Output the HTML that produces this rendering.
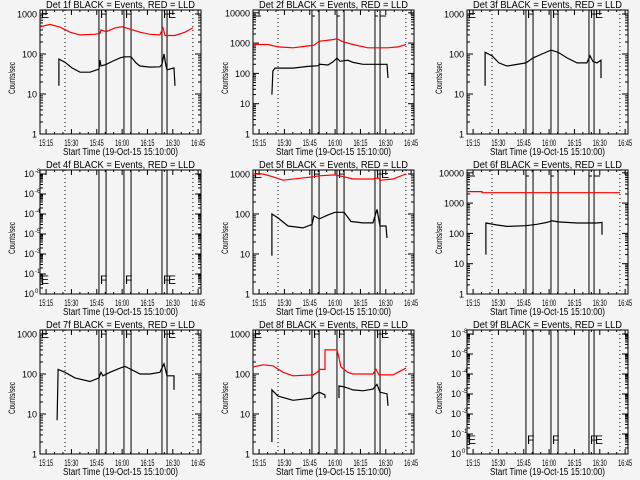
<!DOCTYPE html>
<html><head><meta charset="utf-8"><style>
html,body{margin:0;padding:0;background:#f4f4f4;}
svg{display:block;font-family:"Liberation Sans",sans-serif;}
</style></head><body>
<svg id="chart" width="640" height="480"></svg>
<script>
// ---- data (minutes since ~15:10) ----
const tickMinutes = [6,21,36,51,66,81,96];
const tickLabels = ["15:15","15:30","15:45","16:00","16:15","16:30","16:45"];
const flagLines = [37.3,41.5,52.1,56.3,74.6,77.6];
const dottedLines = [17.2,92.9];
const titles = ["Det 1f","Det 2f","Det 3f","Det 4f","Det 5f","Det 6f","Det 7f","Det 8f","Det 9f"];

const t1b=[13.6,13.6,17.2,21.3,26.1,32,37.3,37.9,38.5,41.5,45,49.7,52.1,56.3,59.2,61.6,67.5,73.4,74.6,75.8,77,77.6,79.3,81.7,82.3];
const v1b=[16,75,62,45,35,35,42,70,50,55,65,80,85,85,60,50,47,48,55,100,50,40,42,45,16];
const t1r=[2.4,8.3,14.2,20.2,26.1,34.9,37.9,38.5,41.5,46.8,50.9,55.7,61.6,67.5,73.4,75.2,76.4,82.3,88.2,92.9];
const v1r=[480,550,470,350,300,310,330,400,360,450,480,420,350,310,300,450,290,290,350,450];

const t2b=[13.6,14.2,15.4,26.1,34.9,40.9,42,46.8,49.7,52.1,53.9,58.6,61.6,67.5,76.4,81.7,82.3];
const v2b=[20,120,150,150,170,180,200,190,240,320,250,270,230,200,200,200,70];
const t2r=[2.4,11.3,17.2,26.1,34.9,38.5,41.5,49.7,52.1,55.7,61.6,70.4,82.3,88.2,92.9];
const v2r=[900,900,750,700,800,850,1150,1300,1400,1100,900,700,700,750,900];

const t3b=[13.1,13.1,17.2,21.3,26.1,37.3,41.5,46.8,52.1,56.3,61.6,67.5,73.4,75.2,77,79.3,81.7,81.7];
const v3b=[16,110,90,60,50,60,80,100,125,110,80,60,60,90,65,60,70,25];

const t5b=[13.6,13.6,17.2,23.1,32,37.3,38.5,41.5,46.8,50.9,56.3,60.4,67.5,73.4,75.8,77.6,81.1,81.7];
const v5b=[9,100,80,50,45,55,90,75,95,110,110,65,60,60,130,50,50,25];
const t5r=[2.4,8.3,14.2,20.2,37.9,41.5,50.9,56.3,61.6,73.4,76.4,78.1,85.2,92.9];
const v5r=[1000,1000,850,700,850,900,950,850,750,750,800,700,750,1000];

const t6b=[13.6,13.6,20.2,26.1,37.3,43.8,49.7,52.7,56.3,67.5,79.3,82.3,82.3];
const v6b=[20,220,190,170,180,200,230,260,240,220,220,230,90];
const t6r=[2.4,11.3,11.3,92.9];
const v6r=[2400,2400,2200,2200];

const t7b=[12.5,13.1,17.2,23.1,32,37.3,38.5,39.7,43.8,49.7,52.7,56.3,61.6,67.5,73.4,75.8,77.6,81.7,81.7];
const v7b=[7,130,110,80,65,80,110,90,110,140,155,130,100,100,110,180,90,90,40];

const t8b=[13.6,13.6,17.2,26.1,37.3,38.5,41.5,45,45];
const v8b=[2,40,28,22,25,30,35,30,25];
const t8b2=[53.3,53.3,56.3,61.6,67.5,73.4,75.8,77.6,81.7,82.3];
const v8b2=[25,50,48,40,38,42,55,35,32,16];
const t8r=[2.4,8.3,14.2,20.2,26.1,37.9,40.3,42,45,45,52.1,53.3,54.5,58.6,61.6,73.4,75.2,77,85.2,92.9];
const v8r=[150,170,160,110,90,95,110,130,130,400,400,250,150,110,100,100,130,95,95,140];

const panelSeries = [
 [[t1b,v1b,"#000"],[t1r,v1r,"#f00"]],
 [[t2b,v2b,"#000"],[t2r,v2r,"#f00"]],
 [[t3b,v3b,"#000"]],
 [],
 [[t5b,v5b,"#000"],[t5r,v5r,"#f00"]],
 [[t6b,v6b,"#000"],[t6r,v6r,"#f00"]],
 [[t7b,v7b,"#000"]],
 [[t8b,v8b,"#000"],[t8b2,v8b2,"#000"],[t8r,v8r,"#f00"]],
 []
];
const panelDecades = [3,5,3,0,3,5,3,3,0];

// ---- drawing ----
const NS="http://www.w3.org/2000/svg";
const svg=document.getElementById('chart');
function mk(tag,attrs,parent){const e=document.createElementNS(NS,tag);for(const k in attrs)e.setAttribute(k,attrs[k]);(parent||svg).appendChild(e);return e;}
const colX=[0,213,427], rowY=[0,160,320];
const X0=40,X1=201,Y0=10,Y1=134;

titles.forEach((title,i)=>{
  const ox=colX[i%3], oy=rowY[Math.floor(i/3)];
  const g=mk('g',{transform:`translate(${ox},${oy})`});
  
  
  const xs=t=>X0+(t-2.4)/(97.7-2.4)*(X1-X0);
  const dec=panelDecades[i];
  const ppd = dec===5?30.3:40;
  const ys=v=>Y1-Math.log10(v)*ppd;

  const tt=mk('text',{x:46,y:8,'font-size':'10',fill:'#000',textLength:149,lengthAdjust:'spacingAndGlyphs'},g);
  tt.textContent=title+" BLACK = Events, RED = LLD";
  
  

  const fr=mk('rect',{x:X0,y:Y0,width:X1-X0,height:Y1-Y0,fill:'none',stroke:'#000','stroke-width':1},g);
  
  

  for(let m=6-15;m<=97;m+=5){ if(m<2.4)continue; const x=xs(m); const major=((m-6)%15===0);
    const L=major?5:2;
    mk('line',{x1:x,y1:Y1,x2:x,y2:Y1-L,stroke:'#000'},g);
    mk('line',{x1:x,y1:Y0,x2:x,y2:Y0+L,stroke:'#000'},g);}
  tickMinutes.forEach((m,k)=>{const t=mk('text',{x:xs(m)-7,y:146,'font-size':'9',fill:'#000',textLength:14,lengthAdjust:'spacingAndGlyphs'},g);t.textContent=tickLabels[k];
    
    });
  const xt=mk('text',{x:63,y:155,'font-size':'10',fill:'#000',textLength:115,lengthAdjust:'spacingAndGlyphs'},g);
  xt.textContent="Start Time (19-Oct-15 15:10:00)";
  
  
  const yt=mk('text',{x:0,y:0,'font-size':'9','text-anchor':'middle',fill:'#000',transform:'translate(15,78) rotate(-90)',textLength:32,lengthAdjust:'spacingAndGlyphs'},g);
  yt.textContent="Counts/sec";
  
  

  if(dec>0){
    for(let d=0;d<=dec+1;d++){for(let k=1;k<=9;k++){const v=k*Math.pow(10,d);const y=ys(v);if(y<Y0)continue;
      const L=k===1?6:3;
      mk('line',{x1:X0,y1:y,x2:X0+L,y2:y,stroke:'#000'},g);
      mk('line',{x1:X1,y1:y,x2:X1-L,y2:y,stroke:'#000'},g);
      if(k===1){const t=mk('text',{x:37,y:y+3.5,'font-size':'9','text-anchor':'end',fill:'#000'},g);t.textContent=String(v);
        
        }}}
  } else {
    const ex=["0","-1","-3","-5","-4","-6","-8"];
    ex.forEach((e,k)=>{const y=Y1-k*20;
      mk('line',{x1:X0,y1:y,x2:X0+6,y2:y,stroke:'#000'},g);
      mk('line',{x1:X1,y1:y,x2:X1-6,y2:y,stroke:'#000'},g);
      if(k<6){for(let j=2;j<=9;j++){const yy=y-Math.log10(j)*20;
        mk('line',{x1:X0,y1:yy,x2:X0+3,y2:yy,stroke:'#000'},g);
        mk('line',{x1:X1,y1:yy,x2:X1-3,y2:yy,stroke:'#000'},g);}}
      const t=mk('text',{x:34,y:y+3,'font-size':'9','text-anchor':'end',fill:'#000'},g);
      t.textContent="10";
      
      
      const s=mk('text',{x:35,y:y-1,'font-size':'6','text-anchor':'start',fill:'#000'},g);s.textContent=e;});
  }

  dottedLines.forEach(m=>{const l=mk('line',{x1:xs(m),y1:Y0,x2:xs(m),y2:Y1,stroke:'#000','stroke-dasharray':'1,3'},g);
    
    });
  flagLines.forEach(m=>{const l=mk('line',{x1:xs(m),y1:Y0,x2:xs(m),y2:Y1,stroke:'#000','stroke-width':1},g);
    
    });
  const letterY = dec===0?124:18;
  if(dec!==5){
    const lets=[[2.4,"E"],[37.3,"F"],[52.1,"F"],[74.6,"F"],[77.6,"E"]];
    lets.forEach(([m,c])=>{const t=mk('text',{x:xs(m)+1,y:letterY,'font-size':'12',fill:'#000'},g);t.textContent=c;
      
      });
  } else {
    [[2.4,8],[37.3,3],[52.1,3],[74.6,3],[77.6,6]].forEach(([m,w])=>{
      mk('line',{x1:xs(m),y1:16,x2:xs(m)+w,y2:16,stroke:'#000'},g);});
  }

  panelSeries[i].forEach(([ts,vs,col])=>{
    const pts=ts.map((t,k)=>xs(t).toFixed(1)+","+ys(vs[k]).toFixed(1)).join(" ");
    const p=mk('polyline',{points:pts,fill:'none',stroke:col,'stroke-width':1.2},g);
    
    
  });
});
</script>
</body></html>
